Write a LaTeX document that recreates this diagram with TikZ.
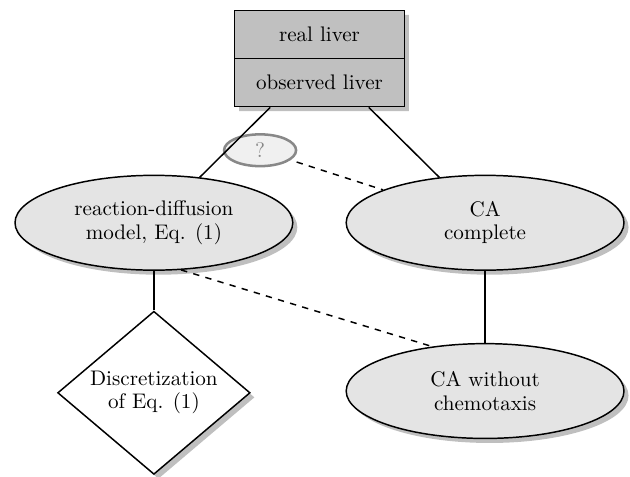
\documentclass[tikz,border=0pt]{standalone}
\usepackage{tikz}
\usetikzlibrary{positioning, shapes.geometric, shapes.multipart, shadows}
\definecolor{boxFill}{RGB}{192, 192, 192}
\definecolor{modelFill}{RGB}{228, 228, 228}
\definecolor{queryFill}{RGB}{240, 240, 240}
\definecolor{queryLine}{RGB}{136, 136, 136}

\begin{document}
\begin{tikzpicture}[
    liverBox/.style={rectangle split, rectangle split parts=2, draw, fill=boxFill, minimum width=2.83cm, inner ysep=7.55pt, line width=0.7pt, drop shadow},
    modelNode/.style={ellipse, draw, fill=modelFill, minimum width=4.63cm, minimum height=1.58cm, inner sep=0pt, align=center, font=\fontsize{10}{11}\selectfont, line width=0.7pt, drop shadow},
    discNode/.style={diamond, draw, fill=white, shape aspect=1.18, inner sep=1.56pt, align=center, font=\fontsize{10}{11}\selectfont, line width=0.7pt, drop shadow},
    queryNode/.style={ellipse, draw=queryLine, fill=queryFill, text=queryLine, minimum width=1.2cm, minimum height=0.53cm, inner sep=0pt, line width=1.2pt}
  ]
    \useasboundingbox (0,0) rectangle (10.5,-7.95);

    % The liver
    \node[liverBox] (liver) at (5.325,-0.975) {real liver\nodepart{two}observed liver};

    % Models
    \node[modelNode, below=1.12cm of liver, xshift=-2.76cm] (rdm) {reaction-diffusion\\model, Eq. (1)};
    \node[modelNode, below=1.12cm of liver, xshift=2.76cm] (caFull) {CA\\complete};
    \node[modelNode, below=1.2cm of caFull] (caNoChem) {CA without\\chemotaxis};
    \node[discNode, below=0.66cm of rdm] (disc) {Discretization\\of Eq. (1)};

    % Open question
    \node[queryNode, above=0.12cm of rdm.north, xshift=1.77cm] (query) {?};

    % Links
    \draw[line width=0.7pt] (liver) -- (rdm);
    \draw[line width=0.7pt] (liver) -- (caFull);
    \draw[line width=0.7pt] (rdm) -- (disc);
    \draw[line width=0.7pt] (caFull) -- (caNoChem);
    \draw[line width=0.7pt, dashed, shorten <=3pt] (query) -- (caFull);
    \draw[line width=0.7pt, dashed] (rdm.-60) -- (caNoChem.140);
  \end{tikzpicture}
\end{document}
